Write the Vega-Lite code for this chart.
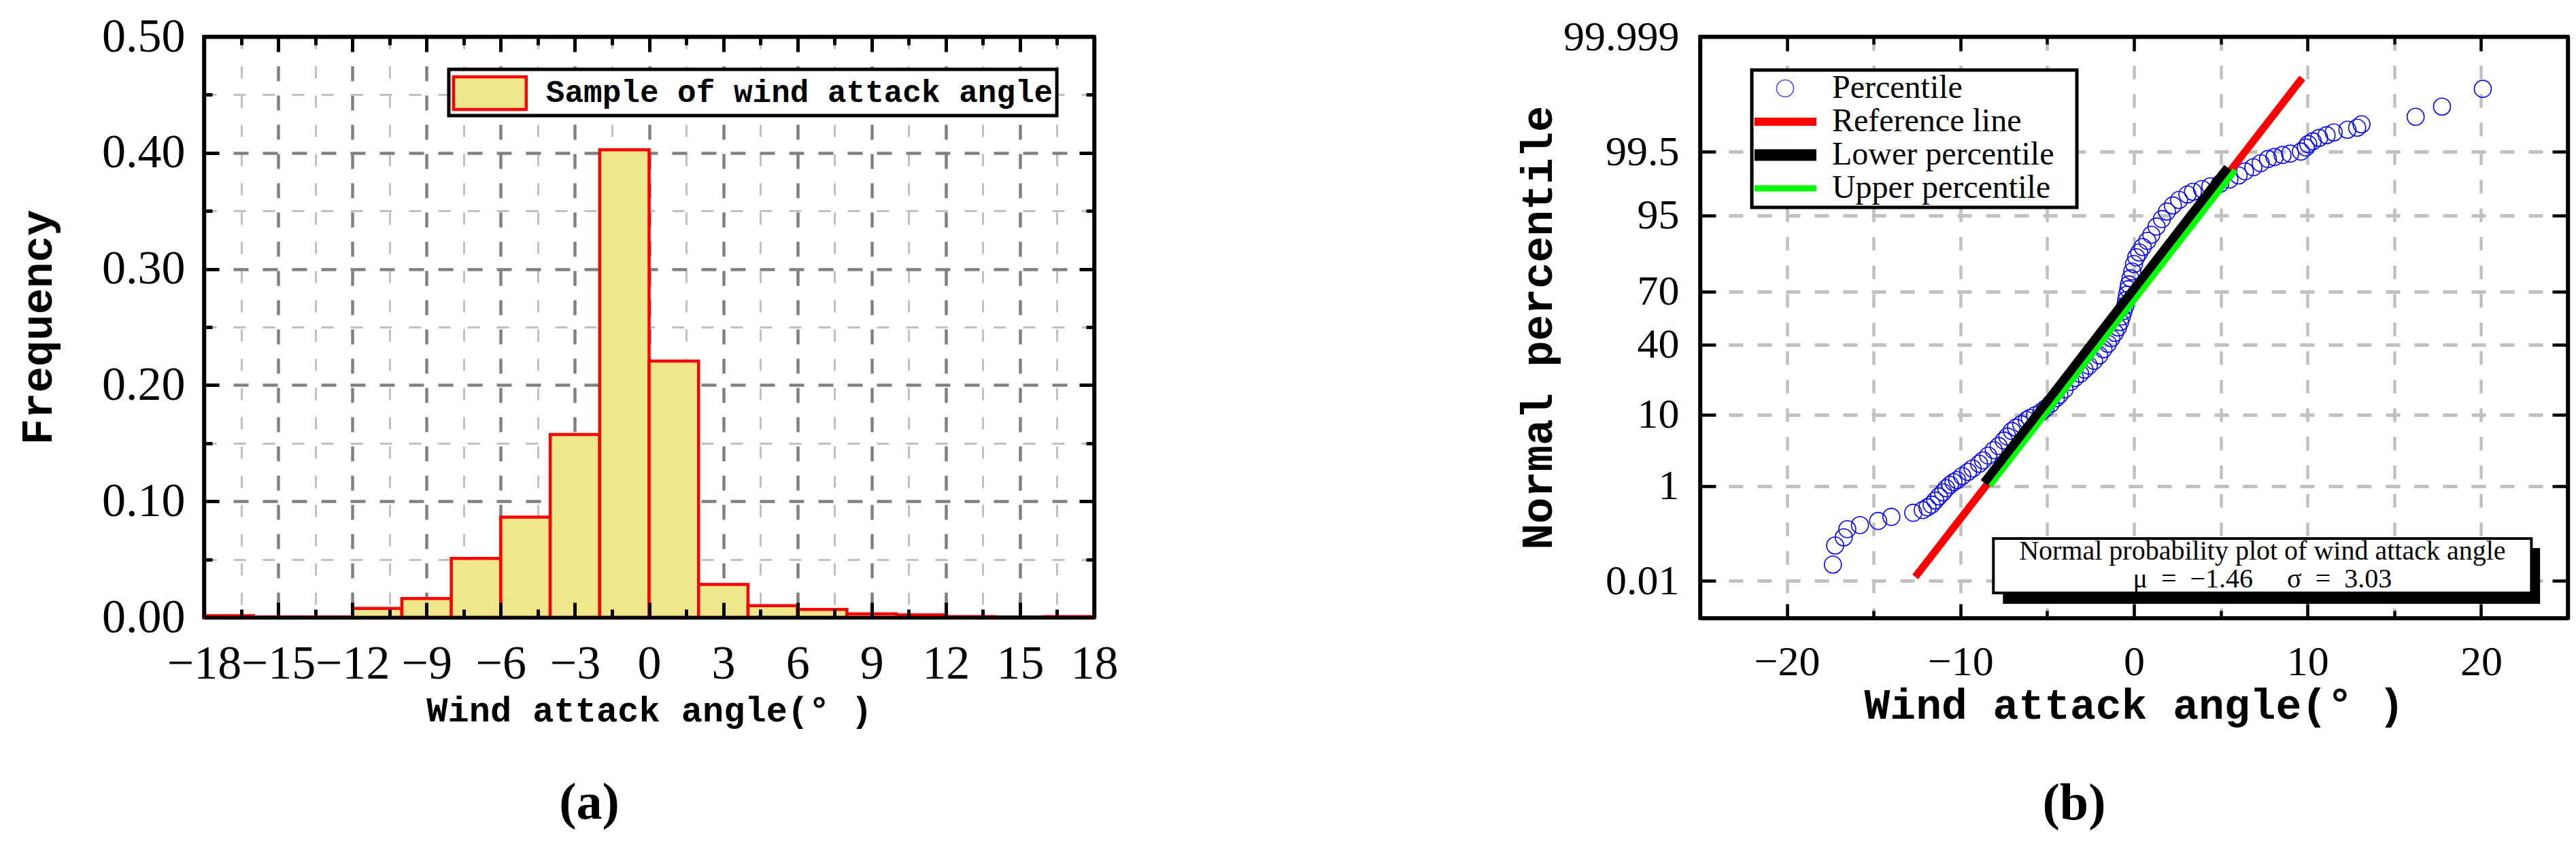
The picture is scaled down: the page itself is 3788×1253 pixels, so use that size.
{
  "$schema": "https://vega.github.io/schema/vega-lite/v6.json",
  "background": "white",
  "padding": {"left": 21, "top": 16, "right": 0, "bottom": 0},
  "config": {
    "view": {"stroke": "black", "strokeWidth": 5.5},
    "axis": {"labelFont": "Liberation Serif", "titleFont": "Liberation Mono", "titleFontWeight": "bold", "labelColor": "black", "titleColor": "black", "tickColor": "black", "domainColor": "black", "labelOverlap": false, "labelFlush": false, "labelBound": false, "tickCap": "butt", "gridCap": "butt"}
  },
  "datasets": {
    "bins": [
      {"lo": -18, "hi": -16, "freq": 0.0015},
      {"lo": -16, "hi": -14, "freq": 0.0005},
      {"lo": -14, "hi": -12, "freq": 0.0005},
      {"lo": -12, "hi": -10, "freq": 0.0078},
      {"lo": -10, "hi": -8, "freq": 0.0162},
      {"lo": -8, "hi": -6, "freq": 0.0508},
      {"lo": -6, "hi": -4, "freq": 0.0864},
      {"lo": -4, "hi": -2, "freq": 0.1575},
      {"lo": -2, "hi": 0, "freq": 0.4026},
      {"lo": 0, "hi": 2, "freq": 0.2207},
      {"lo": 2, "hi": 4, "freq": 0.0284},
      {"lo": 4, "hi": 6, "freq": 0.0101},
      {"lo": 6, "hi": 8, "freq": 0.0069},
      {"lo": 8, "hi": 10, "freq": 0.0031},
      {"lo": 10, "hi": 12, "freq": 0.0022},
      {"lo": 12, "hi": 14, "freq": 0.0008},
      {"lo": 16, "hi": 18, "freq": 0.0008}
    ],
    "pp": [
      {"x": -17.35, "z": -3.48}, {"x": -17.22, "z": -3.2}, {"x": -16.72, "z": -3.08}, {"x": -16.52, "z": -2.96},
      {"x": -15.79, "z": -2.9}, {"x": -14.74, "z": -2.84}, {"x": -13.98, "z": -2.78}, {"x": -12.72, "z": -2.72},
      {"x": -12.17, "z": -2.68}, {"x": -11.9, "z": -2.64}, {"x": -11.66, "z": -2.6}, {"x": -11.45, "z": -2.54},
      {"x": -11.24, "z": -2.48}, {"x": -11.0, "z": -2.42}, {"x": -10.82, "z": -2.36}, {"x": -10.6, "z": -2.31},
      {"x": -10.4, "z": -2.27}, {"x": -10.19, "z": -2.24}, {"x": -9.9, "z": -2.18}, {"x": -9.56, "z": -2.12},
      {"x": -9.3, "z": -2.07}, {"x": -8.92, "z": -2.0}, {"x": -8.7, "z": -1.95}, {"x": -8.4, "z": -1.88},
      {"x": -8.08, "z": -1.8}, {"x": -7.8, "z": -1.74}, {"x": -7.5, "z": -1.66}, {"x": -7.3, "z": -1.6},
      {"x": -7.04, "z": -1.52}, {"x": -6.8, "z": -1.47}, {"x": -6.5, "z": -1.42}, {"x": -6.18, "z": -1.36},
      {"x": -6.0, "z": -1.33}, {"x": -5.7, "z": -1.29}, {"x": -5.34, "z": -1.24}, {"x": -5.1, "z": -1.19},
      {"x": -4.8, "z": -1.12}, {"x": -4.5, "z": -1.04}, {"x": -4.3, "z": -0.99}, {"x": -4.0, "z": -0.91},
      {"x": -3.66, "z": -0.8}, {"x": -3.4, "z": -0.74}, {"x": -3.1, "z": -0.68}, {"x": -2.85, "z": -0.62},
      {"x": -2.6, "z": -0.56}, {"x": -2.3, "z": -0.49}, {"x": -2.0, "z": -0.41}, {"x": -1.76, "z": -0.32},
      {"x": -1.5, "z": -0.24}, {"x": -1.3, "z": -0.16}, {"x": -1.1, "z": -0.08}, {"x": -0.92, "z": 0.0},
      {"x": -0.8, "z": 0.08}, {"x": -0.7, "z": 0.16}, {"x": -0.6, "z": 0.24}, {"x": -0.5, "z": 0.32},
      {"x": -0.45, "z": 0.4}, {"x": -0.4, "z": 0.48}, {"x": -0.33, "z": 0.56}, {"x": -0.29, "z": 0.63},
      {"x": -0.2, "z": 0.72}, {"x": -0.1, "z": 0.82}, {"x": 0.0, "z": 0.93}, {"x": 0.13, "z": 1.03},
      {"x": 0.3, "z": 1.1}, {"x": 0.5, "z": 1.18}, {"x": 0.77, "z": 1.27}, {"x": 1.0, "z": 1.36},
      {"x": 1.3, "z": 1.48}, {"x": 1.61, "z": 1.59}, {"x": 1.9, "z": 1.7}, {"x": 2.24, "z": 1.79},
      {"x": 2.6, "z": 1.87}, {"x": 3.08, "z": 1.95}, {"x": 3.4, "z": 1.99}, {"x": 3.92, "z": 2.03},
      {"x": 4.4, "z": 2.07}, {"x": 4.97, "z": 2.11}, {"x": 5.5, "z": 2.17}, {"x": 6.03, "z": 2.23},
      {"x": 6.4, "z": 2.29}, {"x": 6.88, "z": 2.35}, {"x": 7.3, "z": 2.41}, {"x": 7.72, "z": 2.47},
      {"x": 8.1, "z": 2.5}, {"x": 8.56, "z": 2.53}, {"x": 9.0, "z": 2.55}, {"x": 9.62, "z": 2.58},
      {"x": 9.9, "z": 2.64}, {"x": 10.04, "z": 2.69}, {"x": 10.3, "z": 2.73}, {"x": 10.67, "z": 2.78},
      {"x": 11.1, "z": 2.82}, {"x": 11.51, "z": 2.86}, {"x": 12.3, "z": 2.9}, {"x": 12.86, "z": 2.93},
      {"x": 13.11, "z": 2.98}, {"x": 16.23, "z": 3.09}, {"x": 17.75, "z": 3.24}, {"x": 20.1, "z": 3.5}
    ],
    "lines": [
      {"series": "Reference line", "x": -12.6, "z": -3.66},
      {"series": "Reference line", "x": 9.7, "z": 3.66},
      {"series": "Lower percentile", "x": -8.63, "z": -2.28},
      {"series": "Lower percentile", "x": 5.4, "z": 2.345},
      {"series": "Upper percentile", "x": -8.3, "z": -2.32},
      {"series": "Upper percentile", "x": 5.83, "z": 2.305}
    ]
  },
  "spacing": 580,
  "hconcat": [
    {
      "width": 1309,
      "height": 854,
      "title": {"text": "(a)", "orient": "bottom", "anchor": "middle", "font": "Liberation Serif", "fontSize": 76, "fontWeight": "bold", "color": "black", "offset": 74, "dx": -88},
      "resolve": {"axis": {"x": "independent", "y": "independent"}},
      "layer": [
        {
          "data": {"name": "bins"},
          "mark": {"type": "point", "opacity": 0},
          "encoding": {
            "x": {"field": "lo", "type": "quantitative", "scale": {"domain": [-18, 18], "nice": false, "zero": false},
              "axis": {"orient": "bottom", "values": [-16.5, -13.5, -10.5, -7.5, -4.5, -1.5, 1.5, 4.5, 7.5, 10.5, 13.5, 16.5], "grid": true, "gridColor": "#c0c0c0", "gridWidth": 3, "gridDash": [18, 25], "ticks": false, "labels": false, "domain": false, "title": null, "zindex": 0}},
            "y": {"field": "freq", "type": "quantitative", "scale": {"domain": [0, 0.5], "nice": false, "zero": false},
              "axis": {"orient": "left", "values": [0.05, 0.15, 0.25, 0.35, 0.45], "grid": true, "gridColor": "#c0c0c0", "gridWidth": 3, "gridDash": [18, 25], "ticks": false, "labels": false, "domain": false, "title": null, "zindex": 0}}
          }
        },
        {
          "data": {"name": "bins"},
          "mark": {"type": "point", "opacity": 0},
          "encoding": {
            "x": {"field": "lo", "type": "quantitative",
              "axis": {"orient": "bottom", "values": [-15, -12, -9, -6, -3, 0, 3, 6, 9, 12, 15], "grid": true, "gridColor": "#808080", "gridWidth": 4.5, "gridDash": [22, 21], "ticks": false, "labels": false, "domain": false, "title": null, "zindex": 0}},
            "y": {"field": "freq", "type": "quantitative",
              "axis": {"orient": "left", "values": [0.1, 0.2, 0.3, 0.4], "grid": true, "gridColor": "#808080", "gridWidth": 4.5, "gridDash": [22, 21], "ticks": false, "labels": false, "domain": false, "title": null, "zindex": 0}}
          }
        },
        {
          "data": {"name": "bins"},
          "mark": {"type": "rect", "fill": "#F0E68C", "stroke": "#ff0000", "strokeWidth": 4.5, "strokeJoin": "miter"},
          "encoding": {
            "x": {"field": "lo", "type": "quantitative", "axis": null},
            "x2": {"field": "hi"},
            "y": {"field": "freq", "type": "quantitative", "axis": null},
            "y2": {"datum": 0}
          }
        },
        {
          "data": {"values": [{}]},
          "mark": {"type": "rect", "fill": "white", "stroke": "black", "strokeWidth": 5},
          "encoding": {
            "x": {"datum": -8.1, "type": "quantitative", "axis": null},
            "x2": {"datum": 16.49},
            "y": {"datum": 0.4719, "type": "quantitative", "axis": null},
            "y2": {"datum": 0.4321}
          }
        },
        {
          "data": {"values": [{}]},
          "mark": {"type": "rect", "fill": "#F0E68C", "stroke": "#ff0000", "strokeWidth": 4.5},
          "encoding": {
            "x": {"datum": -7.91, "type": "quantitative", "axis": null},
            "x2": {"datum": -4.97},
            "y": {"datum": 0.4655, "type": "quantitative", "axis": null},
            "y2": {"datum": 0.4374}
          }
        },
        {
          "data": {"values": [{}]},
          "mark": {"type": "text", "align": "left", "baseline": "middle", "font": "Liberation Mono", "fontWeight": "bold", "fontSize": 46, "color": "black"},
          "encoding": {
            "x": {"datum": -4.17, "type": "quantitative", "axis": null},
            "y": {"datum": 0.452, "type": "quantitative", "axis": null},
            "text": {"value": "Sample of wind attack angle"}
          }
        },
        {
          "data": {"name": "bins"},
          "mark": {"type": "point", "opacity": 0},
          "encoding": {
            "x": {"field": "lo", "type": "quantitative",
              "axis": {"orient": "bottom", "values": [-18, -15, -12, -9, -6, -3, 0, 3, 6, 9, 12, 15, 18], "grid": false, "ticks": true, "tickSize": -22, "tickWidth": 5, "domain": true, "domainWidth": 5.5, "labels": true, "labelFontSize": 70, "labelPadding": 56, "title": "Wind attack angle(° )", "titleFontSize": 52, "titlePadding": 8, "zindex": 1}},
            "y": {"field": "freq", "type": "quantitative",
              "axis": {"orient": "left", "values": [0, 0.1, 0.2, 0.3, 0.4, 0.5], "format": ".2f", "grid": false, "ticks": true, "tickSize": -22, "tickWidth": 5, "domain": true, "domainWidth": 5.5, "labels": true, "labelFontSize": 70, "labelPadding": 50, "title": "Frequency", "titleFontSize": 64, "titlePadding": 61, "zindex": 1}}
          }
        },
        {
          "data": {"name": "bins"},
          "mark": {"type": "point", "opacity": 0},
          "encoding": {
            "x": {"field": "lo", "type": "quantitative",
              "axis": {"orient": "bottom", "values": [-16.5, -13.5, -10.5, -7.5, -4.5, -1.5, 1.5, 4.5, 7.5, 10.5, 13.5, 16.5], "grid": false, "ticks": true, "tickSize": -12, "tickWidth": 5, "domain": false, "labels": false, "title": null, "zindex": 1}},
            "y": {"field": "freq", "type": "quantitative",
              "axis": {"orient": "left", "values": [0.05, 0.15, 0.25, 0.35, 0.45], "grid": false, "ticks": true, "tickSize": -12, "tickWidth": 5, "domain": false, "labels": false, "title": null, "zindex": 1}}
          }
        },
        {
          "data": {"name": "bins"},
          "mark": {"type": "point", "opacity": 0},
          "encoding": {
            "x": {"field": "lo", "type": "quantitative",
              "axis": {"orient": "top", "values": [-18, -15, -12, -9, -6, -3, 0, 3, 6, 9, 12, 15, 18], "grid": false, "ticks": true, "tickSize": -22, "tickWidth": 5, "domain": true, "domainWidth": 5.5, "labels": false, "title": null, "zindex": 1}},
            "y": {"field": "freq", "type": "quantitative",
              "axis": {"orient": "right", "values": [0, 0.1, 0.2, 0.3, 0.4, 0.5], "grid": false, "ticks": true, "tickSize": -22, "tickWidth": 5, "domain": true, "domainWidth": 5.5, "labels": false, "title": null, "zindex": 1}}
          }
        },
        {
          "data": {"name": "bins"},
          "mark": {"type": "point", "opacity": 0},
          "encoding": {
            "x": {"field": "lo", "type": "quantitative",
              "axis": {"orient": "top", "values": [-16.5, -13.5, -10.5, -7.5, -4.5, -1.5, 1.5, 4.5, 7.5, 10.5, 13.5, 16.5], "grid": false, "ticks": true, "tickSize": -12, "tickWidth": 5, "domain": false, "labels": false, "title": null, "zindex": 1}},
            "y": {"field": "freq", "type": "quantitative",
              "axis": {"orient": "right", "values": [0.05, 0.15, 0.25, 0.35, 0.45], "grid": false, "ticks": true, "tickSize": -12, "tickWidth": 5, "domain": false, "labels": false, "title": null, "zindex": 1}}
          }
        }
      ]
    },
    {
      "width": 1276,
      "height": 855,
      "title": {"text": "(b)", "orient": "bottom", "anchor": "middle", "font": "Liberation Serif", "fontSize": 76, "fontWeight": "bold", "color": "black", "offset": 76, "dx": -88},
      "resolve": {"axis": {"x": "independent", "y": "independent"}},
      "layer": [
        {
          "data": {"name": "pp"},
          "mark": {"type": "point", "opacity": 0},
          "encoding": {
            "x": {"field": "x", "type": "quantitative", "scale": {"domain": [-25, 25], "nice": false, "zero": false},
              "axis": {"orient": "bottom", "values": [-20, -15, -10, -5, 0, 5, 10, 15, 20], "grid": true, "gridColor": "#c0c0c0", "gridWidth": 4.5, "gridDash": [20, 22], "ticks": false, "labels": false, "domain": false, "title": null, "zindex": 0}},
            "y": {"field": "z", "type": "quantitative", "scale": {"domain": [-4.2649, 4.2649], "nice": false, "zero": false},
              "axis": {"orient": "left", "values": [-3.719, -2.3263, -1.2816, -0.2533, 0.5244, 1.6449, 2.5758], "grid": true, "gridColor": "#c0c0c0", "gridWidth": 5, "gridDash": [21, 21], "ticks": false, "labels": false, "domain": false, "title": null, "zindex": 0}}
          }
        },
        {
          "data": {"name": "pp"},
          "mark": {"type": "point", "filled": false, "shape": "circle", "size": 625, "strokeWidth": 1.6, "opacity": 1},
          "encoding": {
            "x": {"field": "x", "type": "quantitative", "axis": null},
            "y": {"field": "z", "type": "quantitative", "axis": null},
            "color": {"datum": "Percentile", "type": "nominal", "legend": null,
              "scale": {"domain": ["Percentile", "Reference line", "Lower percentile", "Upper percentile"], "range": ["#0000ff", "#ff0000", "#000000", "#00ff00"]}}
          }
        },
        {
          "data": {"name": "lines"},
          "transform": [{"filter": "datum.series === 'Reference line'"}],
          "mark": {"type": "line", "strokeWidth": 11, "strokeCap": "butt"},
          "encoding": {
            "x": {"field": "x", "type": "quantitative", "axis": null},
            "y": {"field": "z", "type": "quantitative", "axis": null},
            "color": {"field": "series", "type": "nominal", "legend": null}
          }
        },
        {
          "data": {"name": "lines"},
          "transform": [{"filter": "datum.series === 'Upper percentile'"}],
          "mark": {"type": "line", "strokeWidth": 9, "strokeCap": "butt"},
          "encoding": {
            "x": {"field": "x", "type": "quantitative", "axis": null},
            "y": {"field": "z", "type": "quantitative", "axis": null},
            "color": {"field": "series", "type": "nominal", "legend": null}
          }
        },
        {
          "data": {"name": "lines"},
          "transform": [{"filter": "datum.series === 'Lower percentile'"}],
          "mark": {"type": "line", "strokeWidth": 13, "strokeCap": "butt"},
          "encoding": {
            "x": {"field": "x", "type": "quantitative", "axis": null},
            "y": {"field": "z", "type": "quantitative", "axis": null},
            "color": {"field": "series", "type": "nominal", "legend": null}
          }
        },
        {
          "data": {"values": [{}]},
          "mark": {"type": "rect", "fill": "black"},
          "encoding": {
            "x": {"datum": -7.55, "type": "quantitative", "axis": null},
            "x2": {"datum": 23.4},
            "y": {"datum": -3.237, "type": "quantitative", "axis": null},
            "y2": {"datum": -4.055}
          }
        },
        {
          "data": {"values": [{}]},
          "mark": {"type": "rect", "fill": "white", "stroke": "black", "strokeWidth": 4},
          "encoding": {
            "x": {"datum": -8.1, "type": "quantitative", "axis": null},
            "x2": {"datum": 22.9},
            "y": {"datum": -3.097, "type": "quantitative", "axis": null},
            "y2": {"datum": -3.896}
          }
        },
        {
          "data": {"values": [{}]},
          "mark": {"type": "text", "font": "Liberation Serif", "fontSize": 40, "color": "black"},
          "encoding": {
            "x": {"datum": 7.4, "type": "quantitative", "axis": null},
            "y": {"datum": -3.29, "type": "quantitative", "axis": null},
            "text": {"value": "Normal probability plot of wind attack angle"}
          }
        },
        {
          "data": {"values": [{}]},
          "mark": {"type": "text", "font": "Liberation Serif", "fontSize": 40, "color": "black"},
          "encoding": {
            "x": {"datum": 7.4, "type": "quantitative", "axis": null},
            "y": {"datum": -3.7, "type": "quantitative", "axis": null},
            "text": {"value": "μ\u00a0\u00a0=\u00a0\u00a0−1.46\u00a0\u00a0\u00a0\u00a0\u00a0σ\u00a0\u00a0=\u00a0\u00a03.03"}
          }
        },
        {
          "data": {"values": [{}]},
          "mark": {"type": "rect", "fill": "white", "stroke": "black", "strokeWidth": 5},
          "encoding": {
            "x": {"datum": -22.02, "type": "quantitative", "axis": null},
            "x2": {"datum": -3.29},
            "y": {"datum": 3.776, "type": "quantitative", "axis": null},
            "y2": {"datum": 1.761}
          }
        },
        {
          "data": {"values": [{}]},
          "mark": {"type": "point", "shape": "circle", "filled": false, "size": 625, "strokeWidth": 1.6, "color": "#0000ff"},
          "encoding": {
            "x": {"datum": -20.1, "type": "quantitative", "axis": null},
            "y": {"datum": 3.507, "type": "quantitative", "axis": null}
          }
        },
        {
          "data": {"values": [{}]},
          "mark": {"type": "rule", "color": "#ff0000", "strokeWidth": 12, "strokeCap": "butt"},
          "encoding": {
            "x": {"datum": -21.87, "type": "quantitative", "axis": null},
            "x2": {"datum": -18.3},
            "y": {"datum": 3.018, "type": "quantitative", "axis": null}
          }
        },
        {
          "data": {"values": [{}]},
          "mark": {"type": "rule", "color": "#000000", "strokeWidth": 17, "strokeCap": "butt"},
          "encoding": {
            "x": {"datum": -21.87, "type": "quantitative", "axis": null},
            "x2": {"datum": -18.3},
            "y": {"datum": 2.529, "type": "quantitative", "axis": null}
          }
        },
        {
          "data": {"values": [{}]},
          "mark": {"type": "rule", "color": "#00ff00", "strokeWidth": 9, "strokeCap": "butt"},
          "encoding": {
            "x": {"datum": -21.87, "type": "quantitative", "axis": null},
            "x2": {"datum": -18.3},
            "y": {"datum": 2.04, "type": "quantitative", "axis": null}
          }
        },
        {
          "data": {"values": [{}]},
          "mark": {"type": "text", "align": "left", "baseline": "middle", "font": "Liberation Serif", "fontSize": 48, "color": "black"},
          "encoding": {
            "x": {"datum": -17.4, "type": "quantitative", "axis": null},
            "y": {"datum": 3.507, "type": "quantitative", "axis": null},
            "text": {"value": "Percentile"}
          }
        },
        {
          "data": {"values": [{}]},
          "mark": {"type": "text", "align": "left", "baseline": "middle", "font": "Liberation Serif", "fontSize": 48, "color": "black"},
          "encoding": {
            "x": {"datum": -17.4, "type": "quantitative", "axis": null},
            "y": {"datum": 3.018, "type": "quantitative", "axis": null},
            "text": {"value": "Reference line"}
          }
        },
        {
          "data": {"values": [{}]},
          "mark": {"type": "text", "align": "left", "baseline": "middle", "font": "Liberation Serif", "fontSize": 48, "color": "black"},
          "encoding": {
            "x": {"datum": -17.4, "type": "quantitative", "axis": null},
            "y": {"datum": 2.529, "type": "quantitative", "axis": null},
            "text": {"value": "Lower percentile"}
          }
        },
        {
          "data": {"values": [{}]},
          "mark": {"type": "text", "align": "left", "baseline": "middle", "font": "Liberation Serif", "fontSize": 48, "color": "black"},
          "encoding": {
            "x": {"datum": -17.4, "type": "quantitative", "axis": null},
            "y": {"datum": 2.04, "type": "quantitative", "axis": null},
            "text": {"value": "Upper percentile"}
          }
        },
        {
          "data": {"name": "pp"},
          "mark": {"type": "point", "opacity": 0},
          "encoding": {
            "x": {"field": "x", "type": "quantitative",
              "axis": {"orient": "bottom", "values": [-20, -10, 0, 10, 20], "grid": false, "ticks": true, "tickSize": -21, "tickWidth": 4.5, "domain": true, "domainWidth": 5.5, "labels": true, "labelFontSize": 62, "labelPadding": 55, "title": "Wind attack angle(° )", "titleFontSize": 63, "titlePadding": 2, "zindex": 1}},
            "y": {"field": "z", "type": "quantitative",
              "axis": {"orient": "left", "values": [-3.719, -2.3263, -1.2816, -0.2533, 0.5244, 1.6449, 2.5758, 4.2649],
                "labelExpr": "datum.value < -3 ? '0.01' : datum.value < -2 ? '1' : datum.value < -1 ? '10' : datum.value < 0 ? '40' : datum.value < 1 ? '70' : datum.value < 2 ? '95' : datum.value < 3 ? '99.5' : '99.999'",
                "grid": false, "ticks": true, "tickSize": -23, "tickWidth": 4.5, "domain": true, "domainWidth": 5.5, "labels": true, "labelFontSize": 62, "labelPadding": 54, "title": "Normal percentile", "titleFontSize": 64, "titlePadding": 6, "zindex": 1}}
          }
        },
        {
          "data": {"name": "pp"},
          "mark": {"type": "point", "opacity": 0},
          "encoding": {
            "x": {"field": "x", "type": "quantitative",
              "axis": {"orient": "bottom", "values": [-15, -5, 5, 15], "grid": false, "ticks": true, "tickSize": -11, "tickWidth": 4.5, "domain": false, "labels": false, "title": null, "zindex": 1}},
            "y": {"field": "z", "type": "quantitative", "axis": null}
          }
        },
        {
          "data": {"name": "pp"},
          "mark": {"type": "point", "opacity": 0},
          "encoding": {
            "x": {"field": "x", "type": "quantitative",
              "axis": {"orient": "top", "values": [-20, -10, 0, 10, 20], "grid": false, "ticks": true, "tickSize": -21, "tickWidth": 4.5, "domain": true, "domainWidth": 5.5, "labels": false, "title": null, "zindex": 1}},
            "y": {"field": "z", "type": "quantitative",
              "axis": {"orient": "right", "values": [-3.719, -2.3263, -1.2816, -0.2533, 0.5244, 1.6449, 2.5758], "grid": false, "ticks": true, "tickSize": -23, "tickWidth": 4.5, "domain": true, "domainWidth": 5.5, "labels": false, "title": null, "zindex": 1}}
          }
        },
        {
          "data": {"name": "pp"},
          "mark": {"type": "point", "opacity": 0},
          "encoding": {
            "x": {"field": "x", "type": "quantitative",
              "axis": {"orient": "top", "values": [-15, -5, 5, 15], "grid": false, "ticks": true, "tickSize": -11, "tickWidth": 4.5, "domain": false, "labels": false, "title": null, "zindex": 1}},
            "y": {"field": "z", "type": "quantitative", "axis": null}
          }
        }
      ]
    }
  ]
}
